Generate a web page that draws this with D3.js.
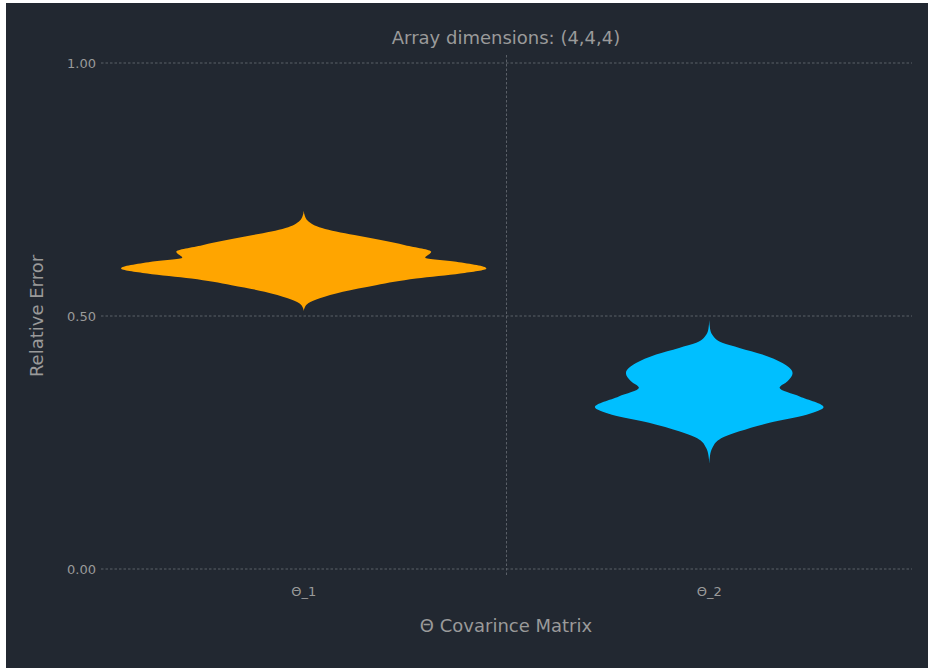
<!DOCTYPE html>
<html>
<head>
<meta charset="utf-8">
<script src="https://cdn.jsdelivr.net/npm/d3@7"></script>
<style>
  body { margin: 0; background: #ffffff; }
  svg { display: block; font-family: 'DejaVu Sans', sans-serif; }
</style>
</head>
<body>
<svg id="svg"></svg>
<script>
// categories on the x axis
const categories = ['Θ_1', 'Θ_2'];
const colors = ['#ffa500', '#00bfff'];

// kernel density profiles (value -> density)
const theta1Values = [0.708, 0.697, 0.688, 0.681, 0.674, 0.667, 0.660, 0.650, 0.640, 0.627, 0.615, 0.607, 0.594, 0.584, 0.574, 0.561, 0.548, 0.535, 0.525, 0.518, 0.510];
const theta1Density = [0, 0.06, 0.20, 0.45, 0.90, 1.60, 2.50, 3.80, 5.00, 6.29, 5.99, 7.52, 9.01, 7.72, 5.54, 3.56, 1.93, 0.79, 0.22, 0.06, 0];

const theta2Values = [0.492, 0.475, 0.463, 0.447, 0.437, 0.424, 0.407, 0.387, 0.371, 0.358, 0.341, 0.320, 0.305, 0.289, 0.272, 0.256, 0.239, 0.225, 0.208];
const theta2Density = [0, 0.04, 0.15, 0.64, 1.49, 2.62, 3.61, 4.11, 3.86, 3.47, 4.46, 5.64, 4.80, 2.97, 1.49, 0.50, 0.15, 0.04, 0];

const yTicks = [0, 0.5, 1];

const title = 'Array dimensions: (4,4,4)';
const xTitle = 'Θ Covarince Matrix';
const yTitle = 'Relative Error';

const W = 928, H = 668;
const bg = '#222831';
const textColor = '#9a9a9a';
const gridColor = '#5b6068';

const svg = d3.select('#svg').attr('width', W).attr('height', H);

svg.append('rect')
  .attr('x', 6).attr('y', 3)
  .attr('width', W - 6).attr('height', H - 3)
  .attr('fill', bg);

const x = d3.scaleBand().domain(categories).range([101, 912]).padding(0);
const y = d3.scaleLinear().domain([0, 1]).range([569, 63]);
// density -> half width in pixels
const w = d3.scaleLinear().domain([0, 10]).range([0, x.bandwidth() / 2]);

// horizontal grid
svg.append('g')
  .selectAll('line')
  .data(yTicks)
  .join('line')
  .attr('x1', x.range()[0])
  .attr('x2', x.range()[1])
  .attr('y1', d => y(d))
  .attr('y2', d => y(d))
  .attr('stroke', gridColor)
  .attr('stroke-width', 1)
  .attr('stroke-dasharray', '2.5,2');

// vertical grid between the two categories
svg.append('line')
  .attr('x1', x(categories[1]))
  .attr('x2', x(categories[1]))
  .attr('y1', 55)
  .attr('y2', 576)
  .attr('stroke', gridColor)
  .attr('stroke-width', 1)
  .attr('stroke-dasharray', '2.5,2');

// y tick labels
svg.append('g')
  .selectAll('text')
  .data(yTicks)
  .join('text')
  .attr('x', 96)
  .attr('y', d => y(d))
  .attr('dy', '0.38em')
  .attr('text-anchor', 'end')
  .attr('font-size', 13)
  .attr('fill', textColor)
  .text(d3.format('.2f'));

// x tick labels
svg.append('g')
  .selectAll('text')
  .data(categories)
  .join('text')
  .attr('x', d => x(d) + x.bandwidth() / 2)
  .attr('y', 596)
  .attr('text-anchor', 'middle')
  .attr('font-size', 13)
  .attr('fill', textColor)
  .text(d => d);

// violins
const series = [
  { cat: categories[0], values: theta1Values, density: theta1Density, color: colors[0] },
  { cat: categories[1], values: theta2Values, density: theta2Density, color: colors[1] },
];

series.forEach(s => {
  const cx = x(s.cat) + x.bandwidth() / 2;
  const pts = s.values.map((v, i) => ({ v: v, d: s.density[i] }));
  const area = d3.area()
    .y(d => y(d.v))
    .x0(d => cx - w(d.d))
    .x1(d => cx + w(d.d))
    .curve(d3.curveMonotoneY);
  svg.append('path')
    .datum(pts)
    .attr('d', area)
    .attr('fill', s.color);
});

// titles
svg.append('text')
  .attr('x', 506)
  .attr('y', 44)
  .attr('text-anchor', 'middle')
  .attr('font-size', 18)
  .attr('fill', textColor)
  .text(title);

svg.append('text')
  .attr('x', 506)
  .attr('y', 632)
  .attr('text-anchor', 'middle')
  .attr('font-size', 18)
  .attr('fill', textColor)
  .text(xTitle);

svg.append('text')
  .attr('transform', 'translate(43,316) rotate(-90)')
  .attr('text-anchor', 'middle')
  .attr('font-size', 18)
  .attr('fill', textColor)
  .text(yTitle);
</script>
</body>
</html>
